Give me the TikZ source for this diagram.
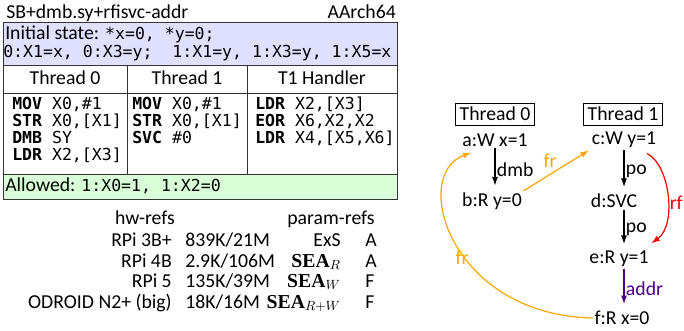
\documentclass[tikz,border=0pt]{standalone}
\usepackage[no-math]{fontspec}
\setmainfont{Carlito}
\setmonofont{DejaVu Sans Mono}
\newfontfamily\serifbf{Liberation Serif}
\usetikzlibrary{arrows.meta}
\definecolor{lav}{RGB}{224,224,255}
\definecolor{grn}{RGB}{216,255,216}
\definecolor{frc}{RGB}{255,165,0}
\definecolor{addrc}{RGB}{75,0,130}
\newcommand{\mymono}{\fontsize{12.4}{13}\selectfont\ttfamily}
\newcommand{\sea}{{\serifbf\bfseries SEA}}
\begin{document}
\begin{tikzpicture}[x=0.75pt,y=-0.75pt,
  font=\fontsize{14.8}{16}\selectfont,
  txt/.style={inner sep=0pt},
  code/.style={inner sep=0pt,anchor=base west,font=\mymono},
  ev/.style={inner sep=1pt},
  thr/.style={draw,inner xsep=3pt,inner ysep=0pt,minimum height=16.5pt},
  edg/.style={line width=0.9pt,-{Latex[length=6.5pt,width=4.5pt]},shorten >=4pt},
  lbl/.style={inner sep=1pt}]
\useasboundingbox (0,0) rectangle (684,331);
% ---- table ----
\fill[lav] (3,22) rectangle (397,65);
\fill[grn] (3,174) rectangle (397,199);
\draw[black!80] (3,22) rectangle (397,199);
\draw[black!80] (3,65) -- (397,65);
\draw[black!80] (3,93) -- (397,93);
\draw[black!80] (3,174) -- (397,174);
\draw[black!80] (127,65) -- (127,174);
\draw[black!80] (247,65) -- (247,174);
\node[txt,anchor=base west] (title) at (6,19) {SB+dmb.sy+rfisvc-addr};
\node[txt,anchor=base east] (arch) at (396,19) {AArch64};
\node[txt,anchor=base west] (init1) at (5,40) {Initial state: {\mymono *x=0, *y=0;}};
\node[code] (init2) at (3,58) {0:X1=x, 0:X3=y;\ \ 1:X1=y, 1:X3=y, 1:X5=x};
\node[txt,anchor=base] (h0) at (65,85) {Thread 0};
\node[txt,anchor=base] (h1) at (187,85) {Thread 1};
\node[txt,anchor=base] (h2) at (322,85) {T1 Handler};
\node[code] (p0a) at (12,110) {\textbf{MOV} X0,\#1};
\node[code] (p0b) at (12,127) {\textbf{STR} X0,[X1]};
\node[code] (p0c) at (12,144) {\textbf{DMB} SY};
\node[code] (p0d) at (12,161) {\textbf{LDR} X2,[X3]};
\node[code] (p1a) at (132,110) {\textbf{MOV} X0,\#1};
\node[code] (p1b) at (132,127) {\textbf{STR} X0,[X1]};
\node[code] (p1c) at (132,144) {\textbf{SVC} \#0};
\node[code] (p2a) at (255,110) {\textbf{LDR} X2,[X3]};
\node[code] (p2b) at (255,127) {\textbf{EOR} X6,X2,X2};
\node[code] (p2c) at (255,144) {\textbf{LDR} X4,[X5,X6]};
\node[txt,anchor=base west] (allowed) at (5,192) {Allowed: {\mymono 1:X0=1, 1:X2=0}};
% ---- refs table ----
\node[txt,anchor=base] (hw) at (145,224) {hw-refs};
\node[txt,anchor=base] (pr) at (331,224) {param-refs};
\node[txt,anchor=base east] (m1) at (172,246) {RPi 3B+};
\node[txt,anchor=base east] (m2) at (172,267) {RPi 4B};
\node[txt,anchor=base east] (m3) at (172,287) {RPi 5};
\node[txt,anchor=base east] (m4) at (172,308) {ODROID N2+ (big)};
\node[txt,anchor=base west] (v1) at (185,246) {839K/21M};
\node[txt,anchor=base west] (v2) at (185,267) {2.9K/106M};
\node[txt,anchor=base west] (v3) at (185,287) {135K/39M};
\node[txt,anchor=base west] (v4) at (185,308) {18K/16M};
\node[txt,anchor=base east] (s1) at (341,246) {ExS};
\node[txt,anchor=base east] (s2) at (341,267) {\sea${}_{R}$};
\node[txt,anchor=base east] (s3) at (341,287) {\sea${}_{W}$};
\node[txt,anchor=base east] (s4) at (341,308) {\sea${}_{R+W}$};
\node[txt,anchor=base west] (r1) at (365,246) {A};
\node[txt,anchor=base west] (r2) at (365,267) {A};
\node[txt,anchor=base west] (r3) at (365,287) {F};
\node[txt,anchor=base west] (r4) at (365,308) {F};
% ---- graph ----
\node[thr] (t0) at (495,114) {Thread 0};
\node[thr] (t1) at (623,114) {Thread 1};
\node[ev] (a) at (495,140) {a:W x=1};
\node[ev] (b) at (492,201) {b:R y=0};
\node[ev] (c) at (624,140) {c:W y=1};
\node[ev] (d) at (614,201) {d:SVC};
\node[ev] (e) at (619,259) {e:R y=1};
\node[ev] (f) at (622,318) {f:R x=0};
\draw[edg] (a.south) -- (a.south |- b.north) node[midway,right,lbl] (ldmb) {dmb};
\draw[edg] (c.south) -- (c.south |- d.north) node[midway,right,lbl] (lpo1) {po};
\draw[edg] (d.south -| c.south) -- (c.south |- e.north) node[midway,right,lbl] (lpo2) {po};
\draw[edg,addrc] (e.south -| c.south) -- (c.south |- f.north) node[midway,right,lbl,text=addrc] (laddr) {addr};
\draw[edg,frc,shorten >=1pt] (b.north east) -- (c.south west) node[pos=0.4,above,lbl,yshift=4pt,text=frc] (lfr1) {fr};
\draw[edg,red,shorten >=1pt] ([xshift=-8pt,yshift=-3pt]c.south east) .. controls (670,165) and (677,225) .. ([yshift=4pt]e.north east);
\node[inner sep=0pt,anchor=east,text=red] (lrf) at (683,203) {rf};
\draw[edg,frc,shorten >=1pt] (f.west) .. controls (450,315) and (410,175) .. ([xshift=9pt,yshift=-3pt]a.south west);
\node[lbl,text=frc] (lfr2) at (462,258) {fr};
\end{tikzpicture}
\end{document}
